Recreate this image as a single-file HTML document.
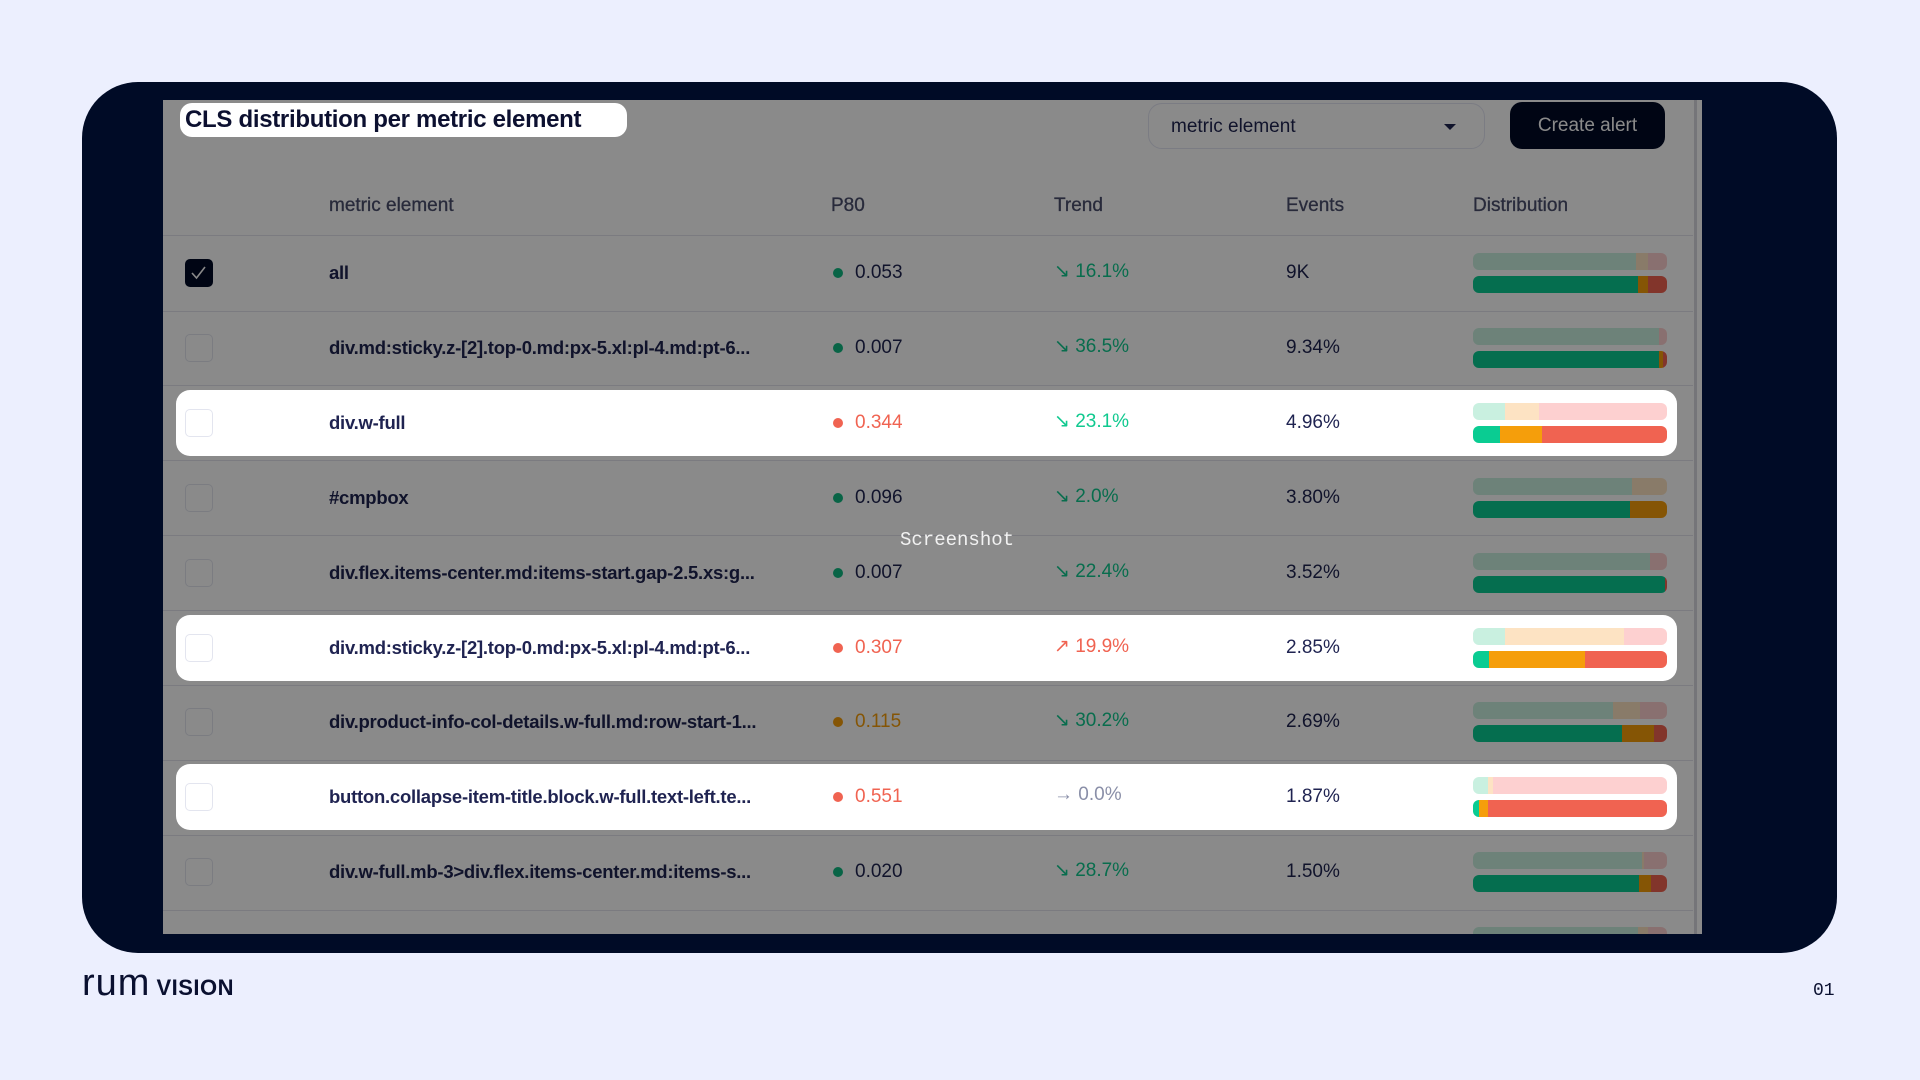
<!DOCTYPE html>
<html><head><meta charset="utf-8"><style>
*{margin:0;padding:0;box-sizing:border-box}
body{width:1920px;height:1080px;background:#eceffe;font-family:"Liberation Sans",sans-serif;position:relative;overflow:hidden}
#frame{position:absolute;left:82px;top:82px;width:1755px;height:871px;background:#000b26;border-radius:56px}
#panel{position:absolute;left:163px;top:100px;width:1539px;height:834px;background:#fff;overflow:hidden}
.abs{position:absolute}
.hdr{position:absolute;top:195px;font-size:19px;color:#4a4f6d;font-weight:500;-webkit-text-stroke:0.3px #4a4f6d}
.sep{position:absolute;left:163px;width:1530px;height:1px;background:#e3e4ec}
.row{position:absolute;left:163px;width:1539px;height:74px}
.row.hl{background:#fff;border-radius:14px;z-index:5}
.cb{position:absolute;left:22px;width:28px;height:28px;border:1.5px solid #e3e5ef;border-radius:5px;background:#fff}
.cb.on{background:#000b26;border-color:#000b26}
.nm{position:absolute;left:166px;font-size:18.5px;font-weight:700;color:#1f2351;white-space:nowrap;letter-spacing:-0.25px}
.dot{position:absolute;left:670px;width:10px;height:10px;border-radius:50%}
.pv{position:absolute;left:692px;font-size:19px;color:#1f2351}
.tr{position:absolute;left:891px;font-size:19px}
.ev{position:absolute;left:1123px;font-size:19px;color:#1f2351}
.bar{position:absolute;left:1310px;width:194px;height:17px;border-radius:6px;overflow:hidden;display:flex}
.bar div{height:100%}
#rows{position:absolute;left:0;top:0;width:1920px;height:1080px;clip-path:inset(100px 218px 146px 163px)}
#overlay{position:absolute;left:163px;top:100px;width:1539px;height:834px;background:rgba(0,0,0,0.46);z-index:3}
</style></head><body>
<div id="frame"></div>
<div id="panel"></div>
<div id="rows">
<div class="abs" style="left:1148px;top:103px;width:337px;height:46px;border:1.5px solid #e3e5f3;border-radius:14px;background:#fff;z-index:2">
<span style="position:absolute;left:22px;top:12px;font-size:19px;color:#1f2351">metric element</span>
<span style="position:absolute;right:28px;top:20px;width:0;height:0;border-left:6px solid transparent;border-right:6px solid transparent;border-top:6px solid #1f2351"></span></div>
<div class="abs" style="left:1510px;top:102px;width:155px;height:47px;background:#000b26;border-radius:12px;color:#fff;font-size:19px;text-align:center;line-height:47px;z-index:2">Create alert</div>
<div class="hdr" style="left:329px;z-index:2">metric element</div>
<div class="hdr" style="left:831px;z-index:2">P80</div>
<div class="hdr" style="left:1054px;z-index:2">Trend</div>
<div class="hdr" style="left:1286px;z-index:2">Events</div>
<div class="hdr" style="left:1473px;z-index:2">Distribution</div>
<div class="abs" style="left:1694px;top:100px;width:3px;height:834px;background:#d8d9e0;z-index:2"></div>
<div id="overlay"></div>
</div>
<div class="abs" style="left:180px;top:103px;width:447px;height:34px;background:#fff;border-radius:12px;z-index:6;font-size:24px;font-weight:700;color:#0c1030;padding-left:5px;line-height:34px;letter-spacing:-0.3px">CLS distribution per metric element</div>
<div class="abs" style="left:900px;top:529px;z-index:7;font-family:'Liberation Mono',monospace;font-size:19px;color:#f2f2f2">Screenshot</div>
<div class="abs" style="left:82px;top:966px;font-size:34px;color:#0a1030;letter-spacing:1px;line-height:34px"><span style="font-weight:300;font-size:38px">rum</span><span style="font-weight:800;font-size:22px;letter-spacing:0.5px;margin-left:6px">VISION</span></div>
<div class="abs" style="left:1813px;top:981px;font-family:'Liberation Mono',monospace;font-size:18px;color:#0a1030">01</div>
<script>
const names=["all","div.md:sticky.z-[2].top-0.md:px-5.xl:pl-4.md:pt-6...","div.w-full","#cmpbox","div.flex.items-center.md:items-start.gap-2.5.xs:g...","div.md:sticky.z-[2].top-0.md:px-5.xl:pl-4.md:pt-6...","div.product-info-col-details.w-full.md:row-start-1...","button.collapse-item-title.block.w-full.text-left.te...","div.w-full.mb-3>div.flex.items-center.md:items-s...",""];
const p80=["0.053","0.007","0.344","0.096","0.007","0.307","0.115","0.551","0.020",""];
const p80Status=["good","good","poor","good","good","poor","ni","poor","good","good"];
const trendVals=["16.1%","36.5%","23.1%","2.0%","22.4%","19.9%","30.2%","0.0%","28.7%",""];
const trendDir=["down","down","down","down","down","up","down","flat","down","down"];
const events=["9K","9.34%","4.96%","3.80%","3.52%","2.85%","2.69%","1.87%","1.50%",""];
const topGood=[84,96,16.5,82,91,16.5,72,7.5,87,85];
const topNi=[6,0,17.7,18,0,61.5,14,3,1,5];
const topPoor=[10,4,65.8,0,9,22,14,89.5,12,10];
const botGood=[85,96,14,81,99,8,77,3,85.5,85];
const botNi=[5,2,21.5,19,0,49.5,16.5,4.5,6.5,5];
const botPoor=[10,2,64.5,0,1,42.5,6.5,92.5,8,10];
const highlighted=[false,false,true,false,false,true,false,true,false,false];
const checked=[true,false,false,false,false,false,false,false,false,false];

const statusColor={good:"#10b981",ni:"#f59e0b",poor:"#f06351"};
const trendColor={down:"#10c98f",up:"#f06351",flat:"#8a8fa8"};
const arrow={down:"↘",up:"↗",flat:"→"};
const ROW0=273, PITCH=74.9;
function rowY(i){return ROW0+PITCH*i;}
const rowsEl=document.getElementById('rows');
const sep0=document.createElement('div');
sep0.className='sep';sep0.style.top='235px';sep0.style.zIndex=2;


rowsEl.appendChild(sep0);
function mkBar(vals,cols,top,name){
  const b=document.createElement('div');b.className='bar';b.style.top=top+'px';
  
  
  vals.forEach((v,k)=>{const s=document.createElement('div');s.style.width=v+'%';s.style.background=cols[k];
    
    
    b.appendChild(s);});
  return b;
}
names.forEach((n,i)=>{
  const cy=rowY(i);
  if(i<names.length-1){const s=document.createElement('div');s.className='sep';s.style.top=(cy+37.5)+'px';s.style.zIndex=2;
    
    
    rowsEl.appendChild(s);}
  const r=document.createElement('div');r.className='row'+(highlighted[i]?' hl':'');
  
  
  if(highlighted[i]){r.style.left='176px';r.style.width='1501px';r.style.top=(cy-33)+'px';r.style.height='66px';}
  else{r.style.top=(cy-37)+'px';r.style.zIndex=2;}
  const off=highlighted[i]?13:0;
  const base=highlighted[i]?33:37;
  rowsEl.appendChild(r);
  if(n===""){ r.appendChild(mkBar([topGood[i],topNi[i],topPoor[i]],["#c9f0e0","#fde3c3","#fdd0d0"],base-20,'distribution-bar-previous')); return;}
  const cb=document.createElement('div');cb.className='cb'+(checked[i]?' on':'');cb.style.left=(22-off)+'px';cb.style.top=(base-14)+'px';
  
  
  if(checked[i]){cb.innerHTML='<svg width="25" height="25" viewBox="0 0 25 25"><path d="M6 13 L10.5 18 L19 7" stroke="#fff" stroke-width="1.6" fill="none"/></svg>';}
  r.appendChild(cb);
  const nm=document.createElement('div');nm.className='nm';nm.textContent=n;nm.style.left=(166-off)+'px';nm.style.top=(base-11)+'px';
  
  
  r.appendChild(nm);
  const d=document.createElement('div');d.className='dot';d.style.background=statusColor[p80Status[i]];d.style.left=(670-off)+'px';d.style.top=(base-5)+'px';
  
  
  r.appendChild(d);
  const pv=document.createElement('div');pv.className='pv';pv.textContent=p80[i];pv.style.left=(692-off)+'px';pv.style.top=(base-11)+'px';
  pv.style.color=p80Status[i]==='good'?'#1f2351':statusColor[p80Status[i]];
  
  
  r.appendChild(pv);
  const tr=document.createElement('div');tr.className='tr';tr.textContent=arrow[trendDir[i]]+' '+trendVals[i];tr.style.left=(891-off)+'px';tr.style.top=(base-13)+'px';tr.style.color=trendColor[trendDir[i]];
  
  
  r.appendChild(tr);
  const ev=document.createElement('div');ev.className='ev';ev.textContent=events[i];ev.style.left=(1123-off)+'px';ev.style.top=(base-11)+'px';
  
  
  r.appendChild(ev);
  const b1=mkBar([topGood[i],topNi[i],topPoor[i]],["#c9f0e0","#fde3c3","#fdd0d0"],base-20,'distribution-bar-previous');b1.style.left=(1310-off)+'px';r.appendChild(b1);
  const b2=mkBar([botGood[i],botNi[i],botPoor[i]],["#0acc92","#f59e0b","#f06351"],base+3,'distribution-bar-current');b2.style.left=(1310-off)+'px';r.appendChild(b2);
});
</script>
</body></html>
